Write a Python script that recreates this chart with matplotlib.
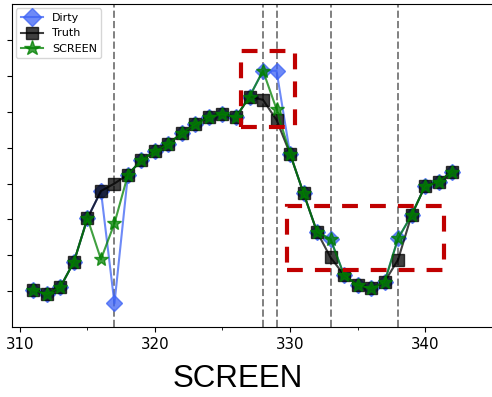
import matplotlib
matplotlib.use("Agg")
import matplotlib.pyplot as plt
from matplotlib.patches import Rectangle
from matplotlib.ticker import MultipleLocator

x = list(range(311, 343))

truth = [0.03, -0.08, 0.12, 0.82, 2.03, 2.79, 3.00, 3.25, 3.65, 3.90, 4.10,
         4.41, 4.65, 4.86, 4.93, 4.85, 5.42, 5.33, 4.77, 3.83, 2.73, 1.65,
         0.94, 0.45, 0.17, 0.08, 0.26, 0.88, 2.12, 2.93, 3.05, 3.33]
dirty = [0.03, -0.08, 0.12, 0.82, 2.03, 2.79, -0.34, 3.25, 3.65, 3.90, 4.10,
         4.41, 4.65, 4.86, 4.93, 4.85, 5.42, 6.14, 6.14, 3.83, 2.73, 1.65,
         1.45, 0.45, 0.17, 0.08, 0.26, 1.47, 2.12, 2.93, 3.05, 3.33]
screen = [0.03, -0.08, 0.12, 0.82, 2.03, 0.89, 1.89, 3.25, 3.65, 3.90, 4.10,
          4.41, 4.65, 4.86, 4.93, 4.85, 5.42, 6.14, 5.07, 3.83, 2.73, 1.65,
          1.45, 0.45, 0.17, 0.08, 0.26, 1.47, 2.12, 2.93, 3.05, 3.33]

# positions of the injected errors
error_x = [317, 328, 329, 333, 338]

# highlighted regions: (x0, y0, width, height)
boxes = [(326.4, 4.58, 4.0, 2.11), (329.8, 0.59, 11.6, 1.79)]

fig = plt.figure(figsize=(4.92, 3.97), dpi=100)
ax = fig.add_axes([0.024, 0.176, 0.98, 0.814])

for ex in error_x:
    ax.axvline(ex, color="gray", linestyle="--", linewidth=1.4, zorder=1)

ax.plot(x, dirty, color="#3d63f5", marker="D", markersize=8.5, linewidth=1.5,
        alpha=0.75, label="Dirty", zorder=2)
ax.plot(x, truth, color="black", marker="s", markersize=8.5, linewidth=1.5,
        alpha=0.75, label="Truth", zorder=3)
ax.plot(x, screen, color="green", marker="*", markersize=10.5, linewidth=1.5,
        alpha=0.75, label="SCREEN", zorder=4)

for bx, by, bw, bh in boxes:
    ax.add_patch(Rectangle((bx, by), bw, bh, fill=False, edgecolor="#c00000",
                           linewidth=3, linestyle=(0, (3.8, 2.9)), zorder=5))

ax.set_xlim(309.4, 345.1)
ax.set_ylim(-1.0, 8.0)
ax.xaxis.set_major_locator(MultipleLocator(10))
ax.xaxis.set_minor_locator(MultipleLocator(5))
ax.set_yticks(range(0, 8))
ax.set_yticklabels([])
ax.tick_params(axis="x", labelsize=10.8)

ax.set_xlabel("SCREEN", fontsize=22.5, family="Liberation Sans")
ax.xaxis.set_label_coords(0.469, -0.115)
ax.legend(loc="upper left", fontsize=8, borderaxespad=0.4, markerscale=1.1)

fig.savefig("out.png", dpi=100)
